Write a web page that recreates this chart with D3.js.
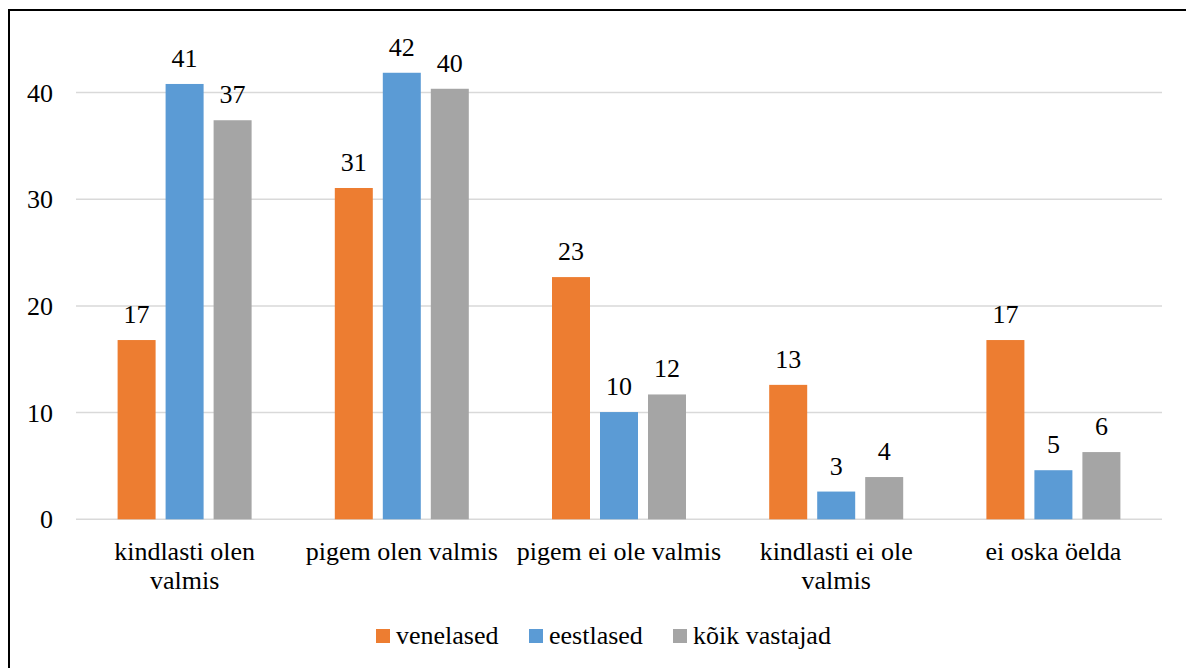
<!DOCTYPE html>
<html>
<head>
<meta charset="utf-8">
<script src="https://cdn.jsdelivr.net/npm/d3@7/dist/d3.min.js"></script>
</head>
<body style="margin:0">
<script>
// categories (line breaks as in the original)
var categories = ["kindlasti olen\nvalmis", "pigem olen valmis", "pigem ei ole valmis", "kindlasti ei ole\nvalmis", "ei oska öelda"];
var seriesNames = ["venelased", "eestlased", "kõik vastajad"];
var venelased = [16.8, 31.05, 22.7, 12.6, 16.8];
var eestlased = [40.8, 41.85, 10.05, 2.6, 4.6];
var koikVastajad = [37.4, 40.35, 11.7, 3.96, 6.3];
var yTicks = [0, 10, 20, 30, 40];

var colors = ["#ED7D31", "#5B9BD5", "#A5A5A5"];
var seriesValues = [venelased, eestlased, koikVastajad];
var FONT = "Times New Roman";

var svg = d3.select("body").append("svg")
    .attr("width", 1186)
    .attr("height", 668)
    .style("display", "block");

// outer frame (runs off the right and bottom edges)
svg.append("rect")
    .attr("x", 9).attr("y", 10)
    .attr("width", 1200).attr("height", 700)
    .attr("fill", "none")
    .attr("stroke", "#000")
    .attr("stroke-width", 2);

var x0 = d3.scaleBand().domain(d3.range(categories.length)).range([76, 1162]);
var x1 = d3.scaleBand().domain(d3.range(seriesNames.length)).range([-67, 67]).paddingInner(0.2083);
var y = d3.scaleLinear().domain([0, 40]).range([519.3, 92.5]);

// gridlines
svg.append("g").selectAll("line")
    .data(yTicks)
    .enter().append("line")
    .attr("x1", 76).attr("x2", 1162)
    .attr("y1", function(d) { return y(d); })
    .attr("y2", function(d) { return y(d); })
    .attr("stroke", "#D9D9D9")
    .attr("stroke-width", 1.5);

// y axis labels
svg.append("g").selectAll("text")
    .data(yTicks)
    .enter().append("text")
    .attr("x", 53)
    .attr("y", function(d) { return y(d) + 9; })
    .attr("text-anchor", "end")
    .attr("font-family", FONT)
    .attr("font-size", 26)
    .text(function(d) { return d; });

// bars
seriesValues.forEach(function(vals, si) {
    var g = svg.append("g");
    g.selectAll("rect")
        .data(vals)
        .enter().append("rect")
        .attr("x", function(d, i) { return x0(i) + x0.bandwidth() / 2 + x1(si); })
        .attr("y", function(d) { return y(d); })
        .attr("width", x1.bandwidth())
        .attr("height", function(d) { return y(0) - y(d); })
        .attr("fill", colors[si]);

    g.selectAll("text")
        .data(vals)
        .enter().append("text")
        .attr("x", function(d, i) { return x0(i) + x0.bandwidth() / 2 + x1(si) + x1.bandwidth() / 2; })
        .attr("y", function(d) { return y(d) - 17; })
        .attr("text-anchor", "middle")
        .attr("font-family", FONT)
        .attr("font-size", 26)
        .text(function(d) { return Math.round(d); });
});

// category labels
var cl = svg.append("g").selectAll("text")
    .data(categories)
    .enter().append("text")
    .attr("text-anchor", "middle")
    .attr("font-family", FONT)
    .attr("font-size", 26)
    .attr("y", 560);
cl.each(function(d, i) {
    var t = d3.select(this);
    d.split("\n").forEach(function(line, li) {
        t.append("tspan")
            .attr("x", x0(i) + x0.bandwidth() / 2)
            .attr("dy", li === 0 ? 0 : 29)
            .text(line);
    });
});

// legend
var legendX = [376, 529, 673];
var lg = svg.append("g").selectAll("g")
    .data(seriesNames)
    .enter().append("g")
    .attr("transform", function(d, i) { return "translate(" + legendX[i] + ",629)"; });
lg.append("rect")
    .attr("width", 14).attr("height", 14)
    .attr("fill", function(d, i) { return colors[i]; });
lg.append("text")
    .attr("x", 20).attr("y", 15)
    .attr("font-family", FONT)
    .attr("font-size", 26)
    .text(function(d) { return d; });
</script>
</body>
</html>
